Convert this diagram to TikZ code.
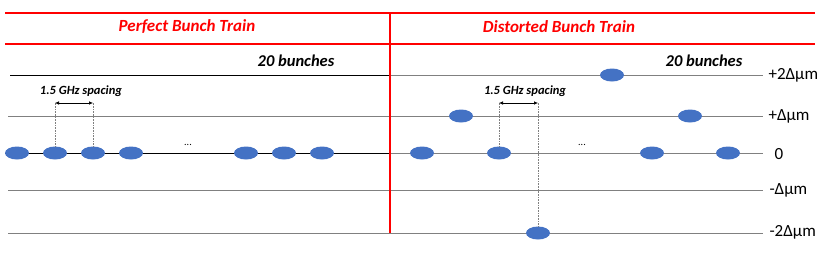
\documentclass[tikz,border=0pt]{standalone}
\usepackage{fontspec}
\setmainfont{Carlito}
\usetikzlibrary{shapes.geometric,arrows.meta}
\definecolor{bunchblue}{HTML}{4472C4}
\definecolor{redline}{HTML}{FF0000}
\definecolor{levelgray}{HTML}{808080}
\begin{document}
\begin{tikzpicture}[x=1pt,y=-1pt,
  bunch/.style={ellipse,fill=bunchblue,minimum width=24pt,minimum height=13pt,inner sep=0pt},
  redrule/.style={draw=redline,line width=1.3pt},
  level/.style={draw=levelgray,line width=0.8pt},
  darklevel/.style={draw=black,line width=0.8pt},
  title/.style={font=\fontsize{17}{19}\selectfont\bfseries\itshape,text=redline},
  count/.style={font=\fontsize{16.5}{19}\selectfont\bfseries\itshape},
  spacing/.style={font=\fontsize{12.5}{14}\selectfont\bfseries\itshape},
  lvl/.style={font=\fontsize{17}{19}\selectfont,anchor=west},
  guide/.style={draw=gray,densely dotted,line width=0.6pt},
  dim/.style={draw=black,line width=0.6pt,{Latex[length=4pt,width=3.5pt]}-{Latex[length=4pt,width=3.5pt]}}
]
\useasboundingbox (0,0) rectangle (831,255);
% red frame lines
\coordinate (rtl) at (5,13);  \coordinate (rtr) at (815,13);
\coordinate (rml) at (5,44);  \coordinate (rmr) at (815,44);
\coordinate (vt) at (390,13); \coordinate (vb) at (390,233);
% level lines
\coordinate (p2a) at (10,75);  \coordinate (p2m) at (390,75); \coordinate (p2b) at (763,75);
\coordinate (p1a) at (8,116);  \coordinate (p1b) at (763,116);
\coordinate (z0a) at (5,153);  \coordinate (z0m) at (390,153); \coordinate (z0b) at (763,153);
\coordinate (m1a) at (8,190);  \coordinate (m1b) at (763,190);
\coordinate (m2a) at (8,233);  \coordinate (m2b) at (763,233);
\draw[darklevel] (p2a) -- (p2m);
\draw[level] (p2m) -- (p2b);
\draw[level] (p1a) -- (p1b);
\draw[darklevel] (z0a) -- (z0m);
\draw[level] (z0m) -- (z0b);
\draw[level] (m1a) -- (m1b);
\draw[level] (m2a) -- (m2b);
\draw[redrule] (rtl) -- (rtr);
\draw[redrule] (rml) -- (rmr);
\draw[redrule] (vt) -- (vb);
% titles
\node[title] (tl) at (187,27) {Perfect Bunch Train};
\node[title] (tr) at (559,27) {Distorted Bunch Train};
\node[count] (cl) at (296,61) {20 bunches};
\node[count] (cr) at (704,61) {20 bunches};
% level labels
\node[lvl] (l2) at (765,75) {+2Δμm};
\node[lvl] (l1) at (765,116) {+Δμm};
\node[lvl] (l0) at (771,154) {0};
\node[lvl] (lm1) at (766,190) {-Δμm};
\node[lvl] (lm2) at (766,232) {-2Δμm};
% perfect bunches
\node[bunch] (a1) at (17,153) {};
\node[bunch] (a2) at (55,153) {};
\node[bunch] (a3) at (93,153) {};
\node[bunch] (a4) at (131,153) {};
\node[bunch] (a5) at (246,153) {};
\node[bunch] (a6) at (284,153) {};
\node[bunch] (a7) at (322,153) {};
\node (ad) at (188,145) {...};
% distorted bunches
\node[bunch] (b1) at (422,153) {};
\node[bunch] (b2) at (499,153) {};
\node[bunch] (b3) at (461,116) {};
\node[bunch] (b4) at (538,233) {};
\node[bunch] (b5) at (612,75) {};
\node[bunch] (b6) at (652,153) {};
\node[bunch] (b7) at (690,116) {};
\node[bunch] (b8) at (728,153) {};
\node (bd) at (582,145) {...};
% spacing markers
\coordinate (sa1) at (55,103); \coordinate (sa2) at (93,103);
\draw[guide] (a2.north) -- (sa1);
\draw[guide] (a3.north) -- (sa2);
\draw[dim] (sa1) -- (sa2);
\node[spacing] (sl) at (81,91) {1.5 GHz spacing};
\coordinate (sb1) at (499,103); \coordinate (sb2) at (538,103);
\draw[guide] (b2.north) -- (sb1);
\draw[guide] (b4.north) -- (sb2);
\draw[dim] (sb1) -- (sb2);
\node[spacing] (sr) at (525,91) {1.5 GHz spacing};
\end{tikzpicture}
\end{document}
